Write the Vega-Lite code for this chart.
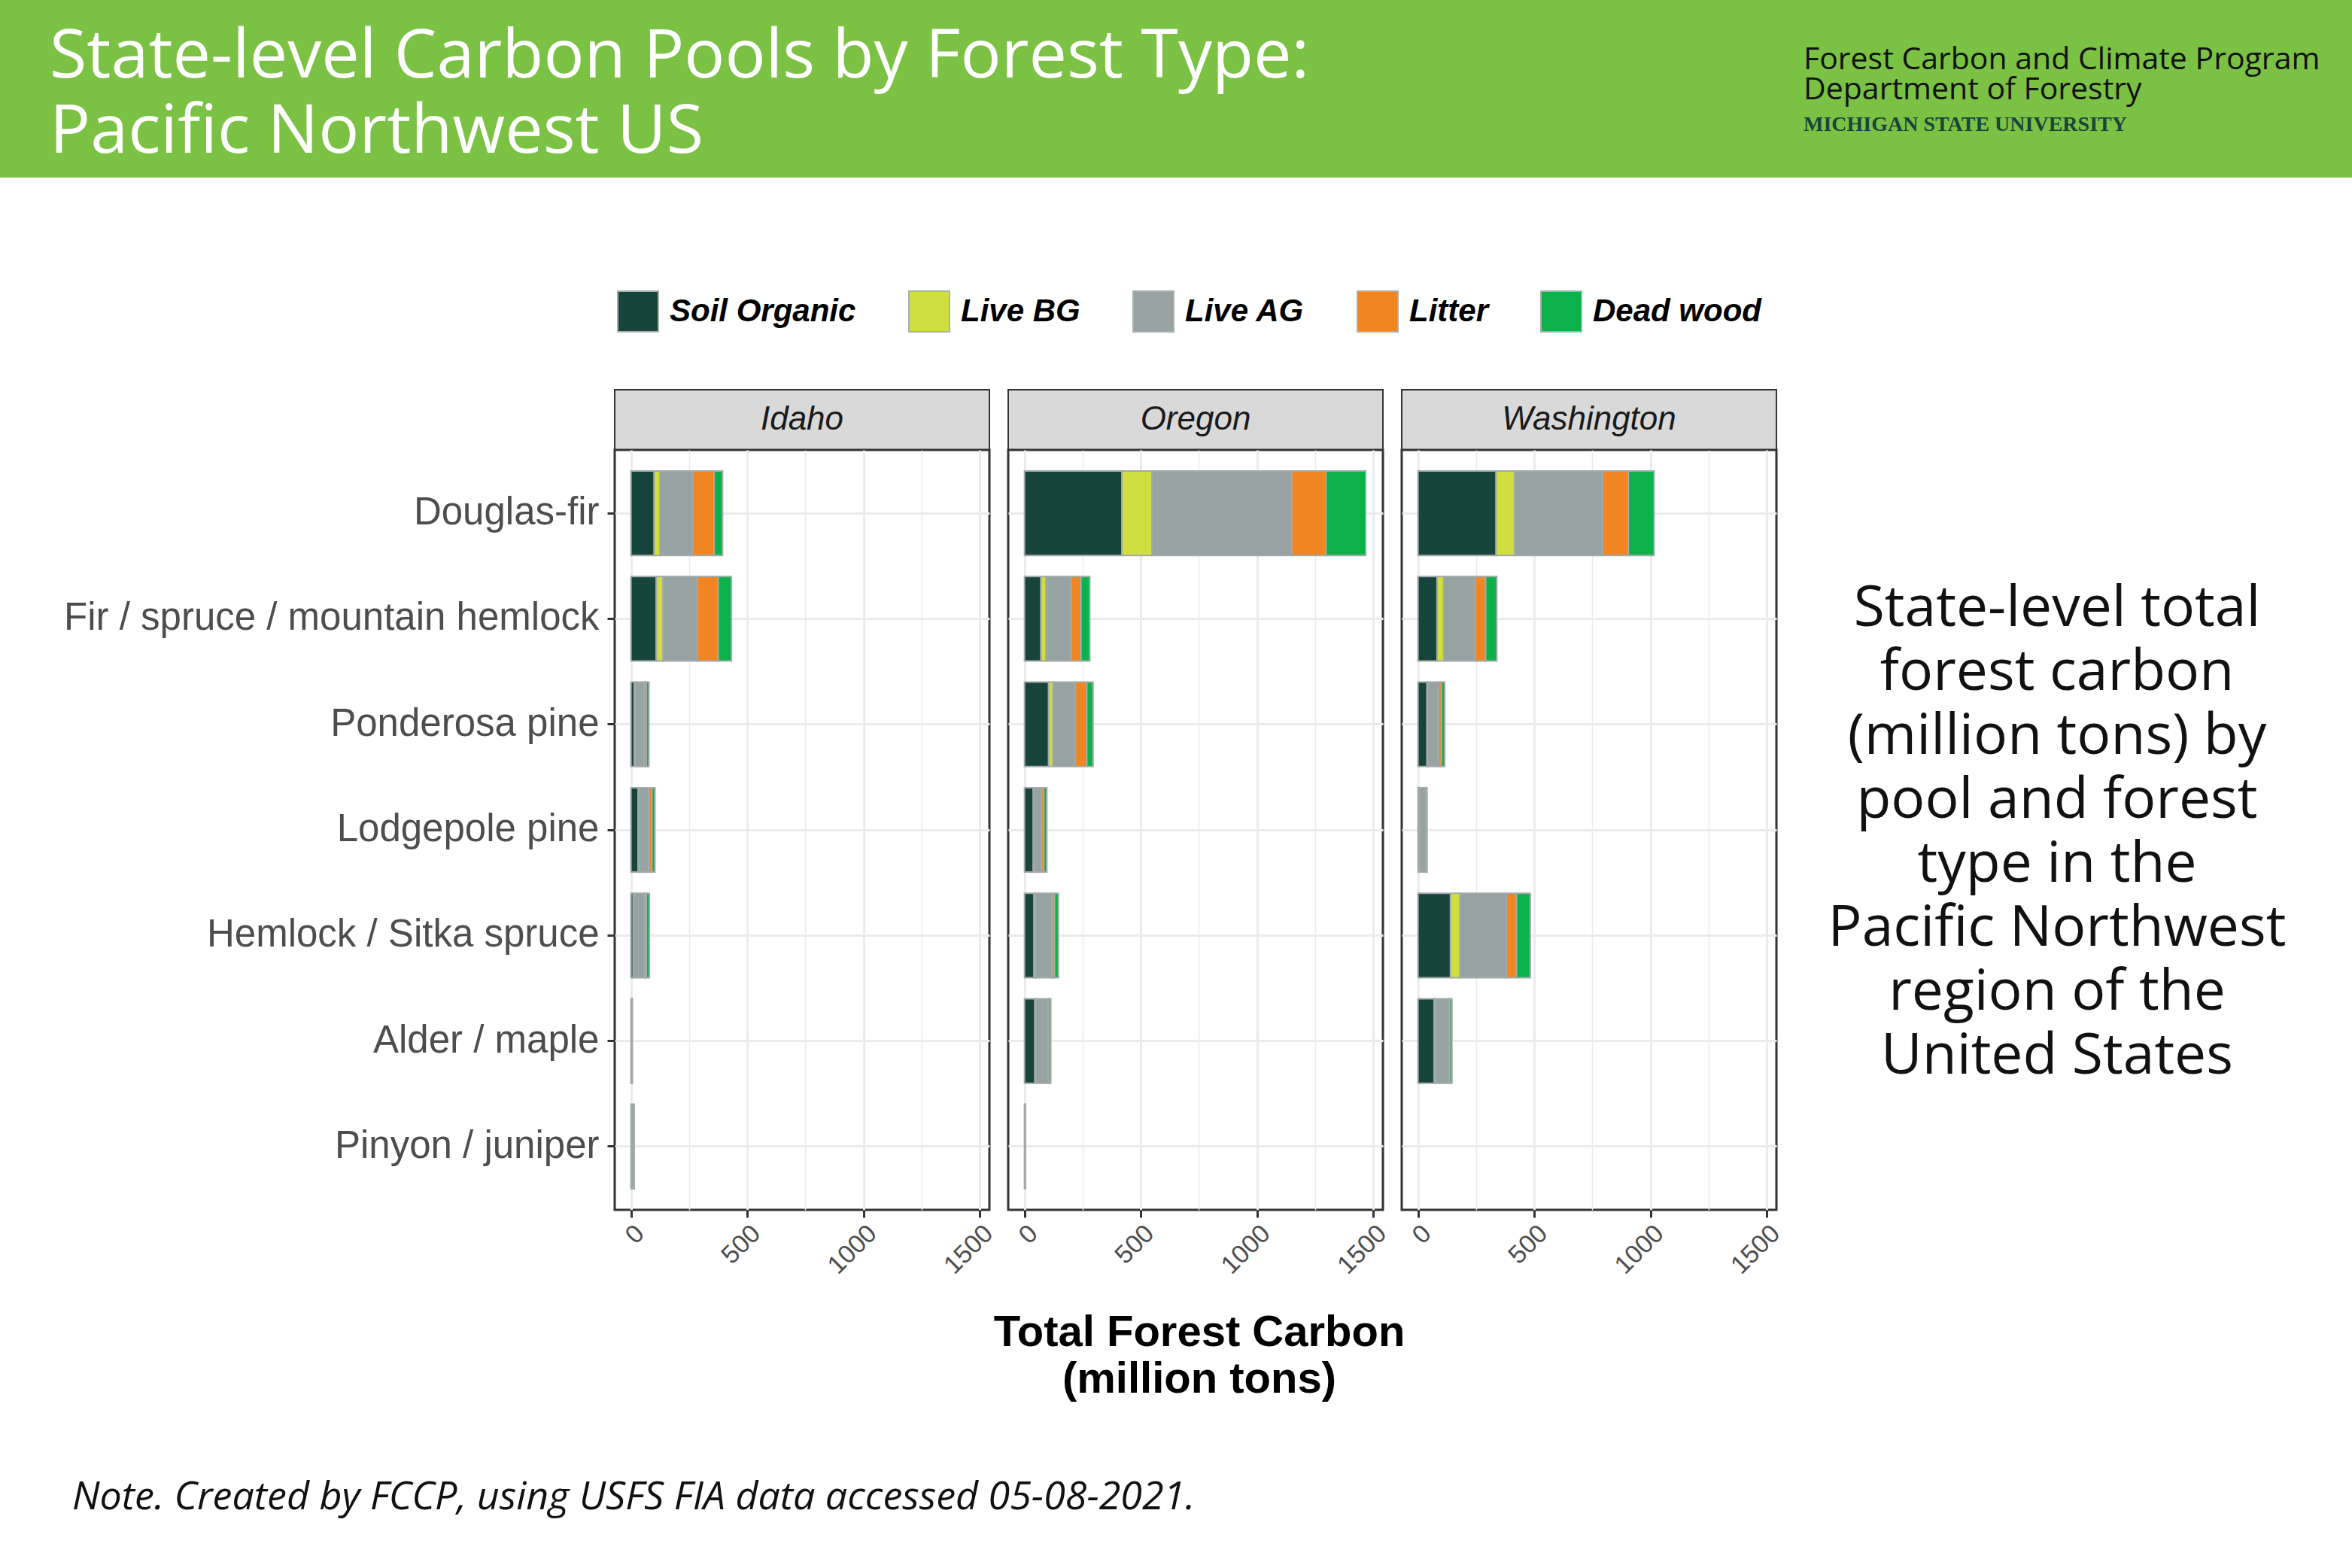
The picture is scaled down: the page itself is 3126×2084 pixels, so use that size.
{
  "$schema": "https://vega.github.io/schema/vega-lite/v6.json",
  "padding": {"left": 0, "top": 0, "right": 0, "bottom": 40},
  "background": "white",
  "datasets": {
    "carbon": [
      {"state": "Idaho", "type": "Douglas-fir", "pool": "Soil Organic", "k": 1, "value": 100},
      {"state": "Idaho", "type": "Douglas-fir", "pool": "Live BG", "k": 2, "value": 25},
      {"state": "Idaho", "type": "Douglas-fir", "pool": "Live AG", "k": 3, "value": 141},
      {"state": "Idaho", "type": "Douglas-fir", "pool": "Litter", "k": 4, "value": 92},
      {"state": "Idaho", "type": "Douglas-fir", "pool": "Dead wood", "k": 5, "value": 36},
      {"state": "Idaho", "type": "Fir / spruce / mountain hemlock", "pool": "Soil Organic", "k": 1, "value": 109},
      {"state": "Idaho", "type": "Fir / spruce / mountain hemlock", "pool": "Live BG", "k": 2, "value": 29},
      {"state": "Idaho", "type": "Fir / spruce / mountain hemlock", "pool": "Live AG", "k": 3, "value": 148},
      {"state": "Idaho", "type": "Fir / spruce / mountain hemlock", "pool": "Litter", "k": 4, "value": 89},
      {"state": "Idaho", "type": "Fir / spruce / mountain hemlock", "pool": "Dead wood", "k": 5, "value": 57},
      {"state": "Idaho", "type": "Ponderosa pine", "pool": "Soil Organic", "k": 1, "value": 14},
      {"state": "Idaho", "type": "Ponderosa pine", "pool": "Live BG", "k": 2, "value": 3},
      {"state": "Idaho", "type": "Ponderosa pine", "pool": "Live AG", "k": 3, "value": 40},
      {"state": "Idaho", "type": "Ponderosa pine", "pool": "Litter", "k": 4, "value": 9},
      {"state": "Idaho", "type": "Ponderosa pine", "pool": "Dead wood", "k": 5, "value": 11},
      {"state": "Idaho", "type": "Lodgepole pine", "pool": "Soil Organic", "k": 1, "value": 31},
      {"state": "Idaho", "type": "Lodgepole pine", "pool": "Live BG", "k": 2, "value": 3},
      {"state": "Idaho", "type": "Lodgepole pine", "pool": "Live AG", "k": 3, "value": 42},
      {"state": "Idaho", "type": "Lodgepole pine", "pool": "Litter", "k": 4, "value": 14},
      {"state": "Idaho", "type": "Lodgepole pine", "pool": "Dead wood", "k": 5, "value": 13},
      {"state": "Idaho", "type": "Hemlock / Sitka spruce", "pool": "Soil Organic", "k": 1, "value": 10},
      {"state": "Idaho", "type": "Hemlock / Sitka spruce", "pool": "Live BG", "k": 2, "value": 2},
      {"state": "Idaho", "type": "Hemlock / Sitka spruce", "pool": "Live AG", "k": 3, "value": 48},
      {"state": "Idaho", "type": "Hemlock / Sitka spruce", "pool": "Litter", "k": 4, "value": 6},
      {"state": "Idaho", "type": "Hemlock / Sitka spruce", "pool": "Dead wood", "k": 5, "value": 13},
      {"state": "Idaho", "type": "Alder / maple", "pool": "Soil Organic", "k": 1, "value": 1},
      {"state": "Idaho", "type": "Alder / maple", "pool": "Live BG", "k": 2, "value": 0.3},
      {"state": "Idaho", "type": "Alder / maple", "pool": "Live AG", "k": 3, "value": 3.5},
      {"state": "Idaho", "type": "Alder / maple", "pool": "Litter", "k": 4, "value": 0.3},
      {"state": "Idaho", "type": "Alder / maple", "pool": "Dead wood", "k": 5, "value": 0.3},
      {"state": "Idaho", "type": "Pinyon / juniper", "pool": "Soil Organic", "k": 1, "value": 2},
      {"state": "Idaho", "type": "Pinyon / juniper", "pool": "Live BG", "k": 2, "value": 1},
      {"state": "Idaho", "type": "Pinyon / juniper", "pool": "Live AG", "k": 3, "value": 9},
      {"state": "Idaho", "type": "Pinyon / juniper", "pool": "Litter", "k": 4, "value": 1},
      {"state": "Idaho", "type": "Pinyon / juniper", "pool": "Dead wood", "k": 5, "value": 1},
      {"state": "Oregon", "type": "Douglas-fir", "pool": "Soil Organic", "k": 1, "value": 419},
      {"state": "Oregon", "type": "Douglas-fir", "pool": "Live BG", "k": 2, "value": 130},
      {"state": "Oregon", "type": "Douglas-fir", "pool": "Live AG", "k": 3, "value": 600},
      {"state": "Oregon", "type": "Douglas-fir", "pool": "Litter", "k": 4, "value": 148},
      {"state": "Oregon", "type": "Douglas-fir", "pool": "Dead wood", "k": 5, "value": 171},
      {"state": "Oregon", "type": "Fir / spruce / mountain hemlock", "pool": "Soil Organic", "k": 1, "value": 71},
      {"state": "Oregon", "type": "Fir / spruce / mountain hemlock", "pool": "Live BG", "k": 2, "value": 22},
      {"state": "Oregon", "type": "Fir / spruce / mountain hemlock", "pool": "Live AG", "k": 3, "value": 107},
      {"state": "Oregon", "type": "Fir / spruce / mountain hemlock", "pool": "Litter", "k": 4, "value": 43},
      {"state": "Oregon", "type": "Fir / spruce / mountain hemlock", "pool": "Dead wood", "k": 5, "value": 38},
      {"state": "Oregon", "type": "Ponderosa pine", "pool": "Soil Organic", "k": 1, "value": 104},
      {"state": "Oregon", "type": "Ponderosa pine", "pool": "Live BG", "k": 2, "value": 19},
      {"state": "Oregon", "type": "Ponderosa pine", "pool": "Live AG", "k": 3, "value": 96},
      {"state": "Oregon", "type": "Ponderosa pine", "pool": "Litter", "k": 4, "value": 49},
      {"state": "Oregon", "type": "Ponderosa pine", "pool": "Dead wood", "k": 5, "value": 27},
      {"state": "Oregon", "type": "Lodgepole pine", "pool": "Soil Organic", "k": 1, "value": 38},
      {"state": "Oregon", "type": "Lodgepole pine", "pool": "Live BG", "k": 2, "value": 3},
      {"state": "Oregon", "type": "Lodgepole pine", "pool": "Live AG", "k": 3, "value": 32},
      {"state": "Oregon", "type": "Lodgepole pine", "pool": "Litter", "k": 4, "value": 10},
      {"state": "Oregon", "type": "Lodgepole pine", "pool": "Dead wood", "k": 5, "value": 13},
      {"state": "Oregon", "type": "Hemlock / Sitka spruce", "pool": "Soil Organic", "k": 1, "value": 41},
      {"state": "Oregon", "type": "Hemlock / Sitka spruce", "pool": "Live BG", "k": 2, "value": 7},
      {"state": "Oregon", "type": "Hemlock / Sitka spruce", "pool": "Live AG", "k": 3, "value": 70},
      {"state": "Oregon", "type": "Hemlock / Sitka spruce", "pool": "Litter", "k": 4, "value": 11},
      {"state": "Oregon", "type": "Hemlock / Sitka spruce", "pool": "Dead wood", "k": 5, "value": 17},
      {"state": "Oregon", "type": "Alder / maple", "pool": "Soil Organic", "k": 1, "value": 45},
      {"state": "Oregon", "type": "Alder / maple", "pool": "Live BG", "k": 2, "value": 3},
      {"state": "Oregon", "type": "Alder / maple", "pool": "Live AG", "k": 3, "value": 54},
      {"state": "Oregon", "type": "Alder / maple", "pool": "Litter", "k": 4, "value": 3},
      {"state": "Oregon", "type": "Alder / maple", "pool": "Dead wood", "k": 5, "value": 8},
      {"state": "Oregon", "type": "Pinyon / juniper", "pool": "Soil Organic", "k": 1, "value": 1},
      {"state": "Oregon", "type": "Pinyon / juniper", "pool": "Live BG", "k": 2, "value": 0.3},
      {"state": "Oregon", "type": "Pinyon / juniper", "pool": "Live AG", "k": 3, "value": 2.5},
      {"state": "Oregon", "type": "Pinyon / juniper", "pool": "Litter", "k": 4, "value": 0.2},
      {"state": "Oregon", "type": "Pinyon / juniper", "pool": "Dead wood", "k": 5, "value": 0.2},
      {"state": "Washington", "type": "Douglas-fir", "pool": "Soil Organic", "k": 1, "value": 336},
      {"state": "Washington", "type": "Douglas-fir", "pool": "Live BG", "k": 2, "value": 80},
      {"state": "Washington", "type": "Douglas-fir", "pool": "Live AG", "k": 3, "value": 378},
      {"state": "Washington", "type": "Douglas-fir", "pool": "Litter", "k": 4, "value": 111},
      {"state": "Washington", "type": "Douglas-fir", "pool": "Dead wood", "k": 5, "value": 111},
      {"state": "Washington", "type": "Fir / spruce / mountain hemlock", "pool": "Soil Organic", "k": 1, "value": 82},
      {"state": "Washington", "type": "Fir / spruce / mountain hemlock", "pool": "Live BG", "k": 2, "value": 29},
      {"state": "Washington", "type": "Fir / spruce / mountain hemlock", "pool": "Live AG", "k": 3, "value": 135},
      {"state": "Washington", "type": "Fir / spruce / mountain hemlock", "pool": "Litter", "k": 4, "value": 45},
      {"state": "Washington", "type": "Fir / spruce / mountain hemlock", "pool": "Dead wood", "k": 5, "value": 48},
      {"state": "Washington", "type": "Ponderosa pine", "pool": "Soil Organic", "k": 1, "value": 39},
      {"state": "Washington", "type": "Ponderosa pine", "pool": "Live BG", "k": 2, "value": 3},
      {"state": "Washington", "type": "Ponderosa pine", "pool": "Live AG", "k": 3, "value": 46},
      {"state": "Washington", "type": "Ponderosa pine", "pool": "Litter", "k": 4, "value": 13},
      {"state": "Washington", "type": "Ponderosa pine", "pool": "Dead wood", "k": 5, "value": 14},
      {"state": "Washington", "type": "Lodgepole pine", "pool": "Soil Organic", "k": 1, "value": 4},
      {"state": "Washington", "type": "Lodgepole pine", "pool": "Live BG", "k": 2, "value": 1},
      {"state": "Washington", "type": "Lodgepole pine", "pool": "Live AG", "k": 3, "value": 30},
      {"state": "Washington", "type": "Lodgepole pine", "pool": "Litter", "k": 4, "value": 2},
      {"state": "Washington", "type": "Lodgepole pine", "pool": "Dead wood", "k": 5, "value": 2},
      {"state": "Washington", "type": "Hemlock / Sitka spruce", "pool": "Soil Organic", "k": 1, "value": 140},
      {"state": "Washington", "type": "Hemlock / Sitka spruce", "pool": "Live BG", "k": 2, "value": 41},
      {"state": "Washington", "type": "Hemlock / Sitka spruce", "pool": "Live AG", "k": 3, "value": 200},
      {"state": "Washington", "type": "Hemlock / Sitka spruce", "pool": "Litter", "k": 4, "value": 43},
      {"state": "Washington", "type": "Hemlock / Sitka spruce", "pool": "Dead wood", "k": 5, "value": 59},
      {"state": "Washington", "type": "Alder / maple", "pool": "Soil Organic", "k": 1, "value": 70},
      {"state": "Washington", "type": "Alder / maple", "pool": "Live BG", "k": 2, "value": 6},
      {"state": "Washington", "type": "Alder / maple", "pool": "Live AG", "k": 3, "value": 58},
      {"state": "Washington", "type": "Alder / maple", "pool": "Litter", "k": 4, "value": 3},
      {"state": "Washington", "type": "Alder / maple", "pool": "Dead wood", "k": 5, "value": 9}
    ]
  },
  "title": {
    "text": "Note. Created by FCCP, using USFS FIA data accessed 05-08-2021.",
    "orient": "bottom", "anchor": "start", "frame": "group", "dx": 96, "offset": 102,
    "font": "Open Sans", "fontStyle": "italic", "fontWeight": 400, "fontSize": 52, "color": "#111111"
  },
  "spacing": 281,
  "vconcat": [
    {
      "hconcat": [
        {
          "width": 2376, "height": 236,
          "data": {"values": [{}]},
          "mark": {"type": "point", "opacity": 0},
          "view": {"fill": "#7BC143", "stroke": null},
          "title": {
            "text": ["State-level Carbon Pools by Forest Type:", "Pacific Northwest US"],
            "orient": "bottom", "anchor": "start", "frame": "group", "dx": 66, "offset": -204,
            "font": "Open Sans", "fontSize": 90, "fontWeight": 400, "color": "#FFFFFF", "lineHeight": 100
          }
        },
        {
          "width": 750, "height": 236,
          "data": {"values": [{}]},
          "mark": {"type": "point", "opacity": 0},
          "view": {"fill": "#7BC143", "stroke": null},
          "title": {
            "text": ["Forest Carbon and Climate Program", "Department of Forestry"],
            "subtitle": "MICHIGAN STATE UNIVERSITY",
            "orient": "bottom", "anchor": "start", "frame": "group", "dx": 21, "offset": -176,
            "font": "Open Sans", "fontSize": 41, "fontWeight": 400, "color": "#111111", "lineHeight": 40,
            "subtitleFont": "Liberation Serif", "subtitleFontWeight": "bold", "subtitleFontSize": 28,
            "subtitleColor": "#18453B", "subtitlePadding": 11
          }
        }
      ],
      "spacing": 0,
      "bounds": "flush"
    },
    {
      "vconcat": [
        {
          "hconcat": [
            {
              "width": 73, "height": 10,
              "data": {"values": [{}]},
              "mark": {"type": "point", "opacity": 0},
              "view": {"stroke": null, "fill": null}
            },
            {
              "vconcat": [
                {
                  "width": 498, "height": 80,
                  "data": {"values": [{"state": "Idaho"}]},
                  "mark": {"type": "text", "font": "Liberation Sans", "fontStyle": "italic", "fontSize": 44, "color": "#1A1A1A"},
                  "encoding": {"text": {"field": "state"}},
                  "view": {"fill": "#D9D9D9", "stroke": "#333333", "strokeWidth": 2}
                },
                {
                  "width": 498, "height": 1010,
                  "data": {"name": "carbon"},
                  "transform": [{"filter": "datum.state === 'Idaho'"}],
                  "view": {"fill": "white", "stroke": "#333333", "strokeWidth": 3},
                  "mark": {"type": "bar", "stroke": "#A3ABAA", "strokeWidth": 2},
                  "encoding": {
                    "y": {
                      "field": "type", "type": "nominal",
                      "scale": {"domain": ["Douglas-fir", "Fir / spruce / mountain hemlock", "Ponderosa pine", "Lodgepole pine", "Hemlock / Sitka spruce", "Alder / maple", "Pinyon / juniper"], "paddingInner": 0.2, "paddingOuter": 0.2},
                      "axis": {"title": null, "labelFont": "Liberation Sans", "labelFontSize": 51, "labelColor": "#4D4D4D", "labelPadding": 11, "labelLimit": 1000, "ticks": true, "tickSize": 10, "tickWidth": 3, "tickColor": "#333333", "grid": true, "gridColor": "#EBEBEB", "gridWidth": 3, "domain": false, "bandPosition": 0.5}
                    },
                    "x": {
                      "field": "value", "type": "quantitative", "stack": "zero",
                      "scale": {"domain": [-70, 1542], "nice": false, "zero": false},
                      "axis": {"title": null, "format": "d", "values": [0, 250, 500, 750, 1000, 1250, 1500], "labelExpr": "datum.value % 500 === 0 ? datum.label : ''", "grid": true, "gridColor": "#EBEBEB", "gridWidth": {"condition": {"test": "datum.value % 500 === 0", "value": 3}, "value": 1.5}, "ticks": true, "tickColor": "#333333", "tickWidth": 3, "tickSize": 10, "tickOpacity": {"condition": {"test": "datum.value % 500 === 0", "value": 1}, "value": 0}, "labelAngle": -45, "labelAlign": "right", "labelBaseline": "top", "labelPadding": 4, "labelFont": "Liberation Sans", "labelFontSize": 34, "labelColor": "#4D4D4D", "labelOverlap": false, "labelFlush": false, "domain": false}
                    },
                    "color": {
                      "field": "pool", "type": "nominal", "title": null,
                      "scale": {"domain": ["Soil Organic", "Live BG", "Live AG", "Litter", "Dead wood"], "range": ["#18453B", "#D1DE3F", "#97A2A2", "#F08521", "#0DB14B"]},
                      "legend": {"orient": "none", "legendX": 820, "legendY": 386, "direction": "horizontal", "columns": 5, "symbolType": "square", "symbolSize": 2916, "symbolStrokeColor": "#A8AFAE", "symbolStrokeWidth": 2, "symbolOpacity": 1, "labelFont": "Liberation Sans", "labelFontSize": 42, "labelFontStyle": "italic", "labelFontWeight": "bold", "labelColor": "#000000", "labelOffset": 14, "columnPadding": 66, "labelLimit": 1000, "padding": 0}
                    },
                    "order": {"field": "k", "type": "quantitative"}
                  }
                }
              ],
              "spacing": 0,
              "bounds": "flush"
            },
            {
              "vconcat": [
                {
                  "width": 498, "height": 80,
                  "data": {"values": [{"state": "Oregon"}]},
                  "mark": {"type": "text", "font": "Liberation Sans", "fontStyle": "italic", "fontSize": 44, "color": "#1A1A1A"},
                  "encoding": {"text": {"field": "state"}},
                  "view": {"fill": "#D9D9D9", "stroke": "#333333", "strokeWidth": 2}
                },
                {
                  "width": 498, "height": 1010,
                  "data": {"name": "carbon"},
                  "transform": [{"filter": "datum.state === 'Oregon'"}],
                  "view": {"fill": "white", "stroke": "#333333", "strokeWidth": 3},
                  "mark": {"type": "bar", "stroke": "#A3ABAA", "strokeWidth": 2},
                  "encoding": {
                    "y": {
                      "field": "type", "type": "nominal",
                      "scale": {"domain": ["Douglas-fir", "Fir / spruce / mountain hemlock", "Ponderosa pine", "Lodgepole pine", "Hemlock / Sitka spruce", "Alder / maple", "Pinyon / juniper"], "paddingInner": 0.2, "paddingOuter": 0.2},
                      "axis": {"title": null, "labels": false, "ticks": false, "grid": true, "gridColor": "#EBEBEB", "gridWidth": 3, "domain": false, "bandPosition": 0.5}
                    },
                    "x": {
                      "field": "value", "type": "quantitative", "stack": "zero",
                      "scale": {"domain": [-70, 1542], "nice": false, "zero": false},
                      "axis": {"title": null, "format": "d", "values": [0, 250, 500, 750, 1000, 1250, 1500], "labelExpr": "datum.value % 500 === 0 ? datum.label : ''", "grid": true, "gridColor": "#EBEBEB", "gridWidth": {"condition": {"test": "datum.value % 500 === 0", "value": 3}, "value": 1.5}, "ticks": true, "tickColor": "#333333", "tickWidth": 3, "tickSize": 10, "tickOpacity": {"condition": {"test": "datum.value % 500 === 0", "value": 1}, "value": 0}, "labelAngle": -45, "labelAlign": "right", "labelBaseline": "top", "labelPadding": 4, "labelFont": "Liberation Sans", "labelFontSize": 34, "labelColor": "#4D4D4D", "labelOverlap": false, "labelFlush": false, "domain": false}
                    },
                    "color": {
                      "field": "pool", "type": "nominal", "title": null,
                      "scale": {"domain": ["Soil Organic", "Live BG", "Live AG", "Litter", "Dead wood"], "range": ["#18453B", "#D1DE3F", "#97A2A2", "#F08521", "#0DB14B"]},
                      "legend": {"orient": "none", "legendX": 820, "legendY": 386, "direction": "horizontal", "columns": 5, "symbolType": "square", "symbolSize": 2916, "symbolStrokeColor": "#A8AFAE", "symbolStrokeWidth": 2, "symbolOpacity": 1, "labelFont": "Liberation Sans", "labelFontSize": 42, "labelFontStyle": "italic", "labelFontWeight": "bold", "labelColor": "#000000", "labelOffset": 14, "columnPadding": 66, "labelLimit": 1000, "padding": 0}
                    },
                    "order": {"field": "k", "type": "quantitative"}
                  }
                }
              ],
              "spacing": 0,
              "bounds": "flush"
            },
            {
              "vconcat": [
                {
                  "width": 498, "height": 80,
                  "data": {"values": [{"state": "Washington"}]},
                  "mark": {"type": "text", "font": "Liberation Sans", "fontStyle": "italic", "fontSize": 44, "color": "#1A1A1A"},
                  "encoding": {"text": {"field": "state"}},
                  "view": {"fill": "#D9D9D9", "stroke": "#333333", "strokeWidth": 2}
                },
                {
                  "width": 498, "height": 1010,
                  "data": {"name": "carbon"},
                  "transform": [{"filter": "datum.state === 'Washington'"}],
                  "view": {"fill": "white", "stroke": "#333333", "strokeWidth": 3},
                  "mark": {"type": "bar", "stroke": "#A3ABAA", "strokeWidth": 2},
                  "encoding": {
                    "y": {
                      "field": "type", "type": "nominal",
                      "scale": {"domain": ["Douglas-fir", "Fir / spruce / mountain hemlock", "Ponderosa pine", "Lodgepole pine", "Hemlock / Sitka spruce", "Alder / maple", "Pinyon / juniper"], "paddingInner": 0.2, "paddingOuter": 0.2},
                      "axis": {"title": null, "labels": false, "ticks": false, "grid": true, "gridColor": "#EBEBEB", "gridWidth": 3, "domain": false, "bandPosition": 0.5}
                    },
                    "x": {
                      "field": "value", "type": "quantitative", "stack": "zero",
                      "scale": {"domain": [-70, 1542], "nice": false, "zero": false},
                      "axis": {"title": null, "format": "d", "values": [0, 250, 500, 750, 1000, 1250, 1500], "labelExpr": "datum.value % 500 === 0 ? datum.label : ''", "grid": true, "gridColor": "#EBEBEB", "gridWidth": {"condition": {"test": "datum.value % 500 === 0", "value": 3}, "value": 1.5}, "ticks": true, "tickColor": "#333333", "tickWidth": 3, "tickSize": 10, "tickOpacity": {"condition": {"test": "datum.value % 500 === 0", "value": 1}, "value": 0}, "labelAngle": -45, "labelAlign": "right", "labelBaseline": "top", "labelPadding": 4, "labelFont": "Liberation Sans", "labelFontSize": 34, "labelColor": "#4D4D4D", "labelOverlap": false, "labelFlush": false, "domain": false}
                    },
                    "color": {
                      "field": "pool", "type": "nominal", "title": null,
                      "scale": {"domain": ["Soil Organic", "Live BG", "Live AG", "Litter", "Dead wood"], "range": ["#18453B", "#D1DE3F", "#97A2A2", "#F08521", "#0DB14B"]},
                      "legend": {"orient": "none", "legendX": 820, "legendY": 386, "direction": "horizontal", "columns": 5, "symbolType": "square", "symbolSize": 2916, "symbolStrokeColor": "#A8AFAE", "symbolStrokeWidth": 2, "symbolOpacity": 1, "labelFont": "Liberation Sans", "labelFontSize": 42, "labelFontStyle": "italic", "labelFontWeight": "bold", "labelColor": "#000000", "labelOffset": 14, "columnPadding": 66, "labelLimit": 1000, "padding": 0}
                    },
                    "order": {"field": "k", "type": "quantitative"}
                  }
                }
              ],
              "spacing": 0,
              "bounds": "flush"
            },
            {
              "width": 700, "height": 582,
              "data": {"values": [{}]},
              "mark": {"type": "text", "font": "Open Sans", "fontWeight": 400, "fontSize": 75, "lineHeight": 85, "color": "#111111", "align": "center", "baseline": "middle"},
              "encoding": {"text": {"value": ["State-level total", "forest carbon", "(million tons) by", "pool and forest", "type in the", "Pacific Northwest", "region of the", "United States"]}},
              "view": {"stroke": null, "fill": null}
            }
          ],
          "spacing": 10
        },
        {
          "width": 3126, "height": 81,
          "data": {"values": [{}]},
          "mark": {"type": "text", "font": "Liberation Sans", "fontWeight": "bold", "fontSize": 58, "lineHeight": 62, "color": "#000000", "align": "center", "baseline": "top", "dx": 31},
          "encoding": {"text": {"value": ["Total Forest Carbon", "(million tons)"]}},
          "view": {"stroke": null, "fill": null}
        }
      ],
      "spacing": 0
    }
  ]
}
